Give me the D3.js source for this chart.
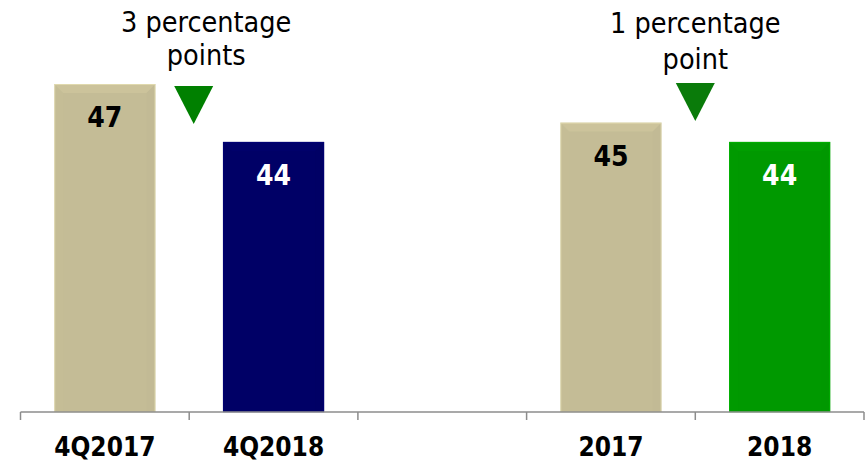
<!DOCTYPE html>
<html>
<head>
<meta charset="utf-8">
<script src="https://cdn.jsdelivr.net/npm/d3@7"></script>
<style>
  html, body { margin: 0; padding: 0; background: #fff; }
  svg { display: block; }
  text { font-family: "DejaVu Sans Condensed", "DejaVu Sans", sans-serif; font-stretch: condensed; }
</style>
</head>
<body>
<div id="chart"></div>
<script>
// Categories along the axis; the empty slot separates the quarterly pair from the annual pair
const categories = ["4Q2017", "4Q2018", "", "2017", "2018"];
const values = [47, 44, null, 45, 44];
const barColors = ["#c4bc96", "#000066", null, "#c4bc96", "#009900"];
const labelColors = ["#000000", "#ffffff", null, "#000000", "#ffffff"];

// Change annotations: text lines, between which two bars they sit, and arrow colour
const annotationLines = [["3 percentage", "points"], ["1 percentage", "point"]];
const annotationPairs = [["4Q2017", "4Q2018"], ["2017", "2018"]];
const arrowColors = ["#008000", "#0a7b0a"];

const width = 866, height = 462;
const margin = { left: 20.5, right: 2, top: 84, bottom: 50 };

const svg = d3.select("#chart").append("svg")
  .attr("width", width).attr("height", height);

const x = d3.scaleBand()
  .domain(categories.map((c, i) => i))
  .range([margin.left, width - margin.right])
  .padding(0);

const y = d3.scaleLinear()
  .domain([30, 47])
  .range([height - margin.bottom, margin.top]);

const barW = x.bandwidth() * 0.6;
const barX = i => x(i) + (x.bandwidth() - barW) / 2;

const data = categories.map((c, i) => ({ c, i, v: values[i], color: barColors[i], lc: labelColors[i] }))
  .filter(d => d.v != null);

// Bars with a soft bevel
const bars = svg.append("g").selectAll("g").data(data).join("g");

bars.append("rect")
  .attr("x", d => barX(d.i))
  .attr("y", d => y(d.v))
  .attr("width", barW)
  .attr("height", d => y.range()[0] - y(d.v))
  .attr("fill", d => d.color);

const bev = 9;
bars.append("path")
  .attr("d", d => {
    const x0 = barX(d.i), x1 = x0 + barW, t = y(d.v);
    return `M${x0},${t}L${x1},${t}L${x1 - bev},${t + bev}L${x0 + bev},${t + bev}Z`;
  })
  .attr("fill", d => d3.color(d.color).brighter(0.35))
  .attr("opacity", 0.3);

bars.append("path")
  .attr("d", d => {
    const x0 = barX(d.i), t = y(d.v), b = y.range()[0];
    return `M${x0},${t}L${x0 + bev},${t + bev}L${x0 + bev},${b}L${x0},${b}Z`;
  })
  .attr("fill", d => d3.color(d.color).brighter(0.2))
  .attr("opacity", 0.1);

bars.append("path")
  .attr("d", d => {
    const x1 = barX(d.i) + barW, t = y(d.v), b = y.range()[0];
    return `M${x1},${t}L${x1 - bev},${t + bev}L${x1 - bev},${b}L${x1},${b}Z`;
  })
  .attr("fill", d => d3.color(d.color).darker(0.3))
  .attr("opacity", 0.08);

bars.append("rect")
  .attr("x", d => barX(d.i) + 0.5)
  .attr("y", d => y(d.v) + 0.5)
  .attr("width", barW - 1)
  .attr("height", d => y.range()[0] - y(d.v) - 0.5)
  .attr("fill", "none")
  .attr("stroke", d => d3.color(d.color).brighter(0.8))
  .attr("stroke-opacity", 0.4)
  .attr("stroke-width", 1);

// Value labels
bars.append("text")
  .attr("x", d => barX(d.i) + barW / 2)
  .attr("y", d => y(d.v) + 43)
  .attr("text-anchor", "middle")
  .attr("font-size", 28)
  .attr("font-weight", "bold")
  .attr("fill", d => d.lc)
  .text(d => d.v);

// Category axis with separators between bands
const axisY = y.range()[0];
const axisG = svg.append("g");
axisG.append("line")
  .attr("x1", x.range()[0]).attr("x2", x.range()[1])
  .attr("y1", axisY).attr("y2", axisY)
  .attr("stroke", "#8c8c8c").attr("stroke-width", 1.5);

const boundaries = categories.map((c, i) => x(i)).concat([x.range()[1]]);
axisG.selectAll("line.sep").data(boundaries).join("line")
  .attr("class", "sep")
  .attr("x1", d => d).attr("x2", d => d)
  .attr("y1", axisY).attr("y2", axisY + 8)
  .attr("stroke", "#8c8c8c").attr("stroke-width", 1.5);

axisG.selectAll("text").data(categories.map((c, i) => ({ c, i })).filter(d => d.c)).join("text")
  .attr("x", d => x(d.i) + x.bandwidth() / 2)
  .attr("y", axisY + 44)
  .attr("text-anchor", "middle")
  .attr("font-size", 26)
  .attr("font-weight", "bold")
  .attr("fill", "#000")
  .text(d => d.c);

// Decrease annotations: a downward triangle between each pair with text above
const idx = c => categories.indexOf(c);
const arrowShift = [4.5, 0];
const textShift = [17, 0];
const annG = svg.append("g");
annotationPairs.forEach((pair, k) => {
  const a = idx(pair[0]), b = idx(pair[1]);
  const cx = (barX(a) + barW + barX(b)) / 2 + arrowShift[k];
  const topV = k === 0 ? 46.9 : 47.05;
  const t = y(topV), half = 19.5, h = 38;
  annG.append("path")
    .attr("d", `M${cx - half},${t}L${cx + half},${t}L${cx},${t + h}Z`)
    .attr("fill", arrowColors[k]);
  const tx = cx - arrowShift[k] + textShift[k];
  annG.append("text")
    .attr("text-anchor", "middle")
    .attr("font-size", 28.5)
    .attr("fill", "#000")
    .selectAll("tspan").data(annotationLines[k]).join("tspan")
    .attr("x", tx)
    .attr("y", (d, j) => (k === 0 ? 32 : 33) + j * (k === 0 ? 33 : 36))
    .text(d => d);
});
</script>
</body>
</html>
